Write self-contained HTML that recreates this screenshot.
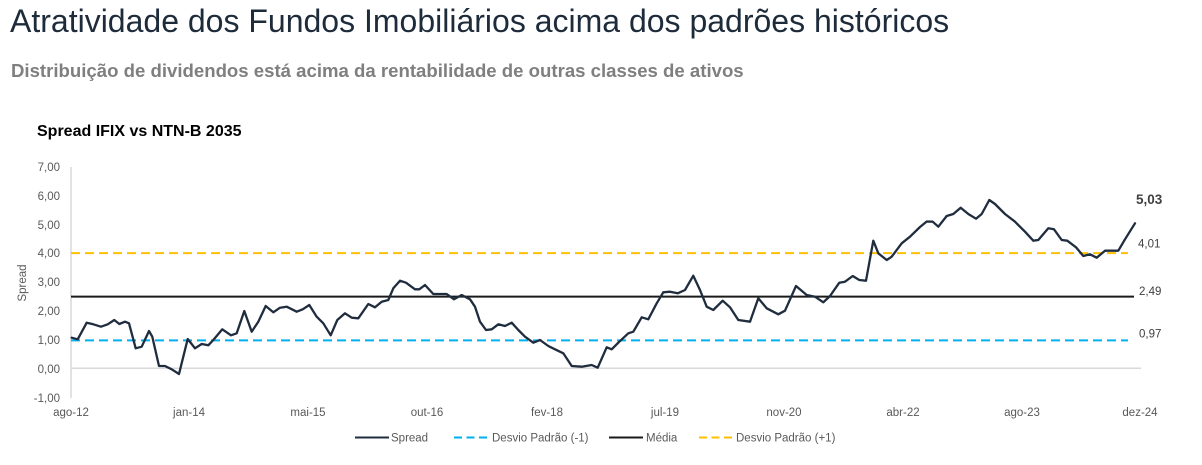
<!DOCTYPE html>
<html>
<head>
<meta charset="utf-8">
<style>
  html, body { margin: 0; padding: 0; background: #ffffff; }
  svg { display: block; }
  text { font-family: "Liberation Sans", Arial, sans-serif; }
</style>
</head>
<body>
<svg width="1202" height="465" viewBox="0 0 1202 465" xmlns="http://www.w3.org/2000/svg">
  <rect x="0" y="0" width="1202" height="465" fill="#ffffff"/>

  <!-- Titles -->
  <text x="10" y="32" font-size="32" fill="#1d2b3a">Atratividade dos Fundos Imobiliários acima dos padrões históricos</text>
  <text x="11" y="77" font-size="18.6" font-weight="bold" fill="#7f7f7f">Distribuição de dividendos está acima da rentabilidade de outras classes de ativos</text>
  <text x="37" y="136" font-size="16" font-weight="bold" fill="#000000">Spread IFIX vs NTN-B 2035</text>

  <!-- Y axis labels -->
  <g font-size="11.5" fill="#595959" text-anchor="end">
    <text x="60" y="171">7,00</text>
    <text x="60" y="200">6,00</text>
    <text x="60" y="229">5,00</text>
    <text x="60" y="257">4,00</text>
    <text x="60" y="286">3,00</text>
    <text x="60" y="315">2,00</text>
    <text x="60" y="344">1,00</text>
    <text x="60" y="373">0,00</text>
    <text x="60" y="402">-1,00</text>
  </g>
  <text x="0" y="0" font-size="11.5" fill="#595959" text-anchor="middle" transform="translate(26,283) rotate(-90)">Spread</text>

  <!-- X axis labels -->
  <g font-size="11.5" fill="#595959" text-anchor="middle">
    <text x="71" y="416">ago-12</text>
    <text x="189" y="416">jan-14</text>
    <text x="308" y="416">mai-15</text>
    <text x="427" y="416">out-16</text>
    <text x="547" y="416">fev-18</text>
    <text x="665" y="416">jul-19</text>
    <text x="784" y="416">nov-20</text>
    <text x="903" y="416">abr-22</text>
    <text x="1022" y="416">ago-23</text>
    <text x="1140" y="416">dez-24</text>
  </g>

  <!-- Axes -->
  <line x1="71" y1="167" x2="71" y2="398" stroke="#d9d9d9" stroke-width="1.5"/>
  <line x1="71" y1="368.3" x2="1141" y2="368.3" stroke="#d9d9d9" stroke-width="1.5"/>

  <!-- Reference lines -->
  <line x1="71" y1="253.1" x2="1128" y2="253.1" stroke="#ffc000" stroke-width="2" stroke-dasharray="9,5"/>
  <line x1="71" y1="340.4" x2="1128" y2="340.4" stroke="#00b0f0" stroke-width="2" stroke-dasharray="9,5"/>
  <line x1="71" y1="296.6" x2="1134" y2="296.6" stroke="#1a1a1a" stroke-width="2"/>

  <!-- Spread series -->
  <polyline fill="none" stroke="#1f2d3f" stroke-width="2.3" stroke-linejoin="round" stroke-linecap="round" points="
71.7,337.7 77.7,339.3 86.7,322.7 93.3,324.3 101,326.7 107.7,324.3 114.3,320 119.3,324 125,321.7 129,323.3
135.7,348.3 141.7,346.7 149,331 152.3,336.7 159,366 165,366 171.7,369.3 179,374 183.3,356.7 187.7,339
195,348.3 201.7,344 208.3,345.3 213.3,340 222.3,329.3 231,335.3 236.7,333.3 244.3,311 251.7,331.7 258.3,321.7
265.7,306 273.3,312.3 280,307.7 286.7,306.7 296.7,311.7 302.7,309.3 309.3,305 316.7,316.7 323.3,323.3 330.7,335.3
337.3,320 345,313.3 351.7,317.7 358.3,318.3 368.3,304 375,307.3 381.7,301.7 388.3,300 393.3,288.3 400,280.7
406,282.7 415,289.3 419.3,289.3 425,285 433.3,294 441.7,294 446.7,294 454,299.3 461.7,295 470,299.3
475,306.7 480,321.7 486,330 491.7,329.3 498.3,324.3 505,326 511.7,322.7 518.3,330 525,336.7 533.3,342.7
540,340 548.3,346 555,349.3 563.3,353.3 571.7,366 581.7,366.7 591.7,365 597.7,367.7 606.7,347.3 611.7,349.3
618.3,342.7 628.3,333.3 633.3,331.7 641.7,317.3 648.3,319.3 656.7,303.3 663.3,292.3 670,291.7 677.7,293.3 685,290
693.3,275.7 700,290 706.7,306.7 713.3,310 722.7,300.7 730,307.3 738.3,320 750,321.7 758.3,298.3 766.7,308.3
778.3,314.3 785,310.7 796,286 806.7,295 815,296.7 823.3,302.3 830,296 839.3,282.7 845,281.7 852.7,276
859.3,280 866,280.7 873.3,240.7 878.3,253.3 886.7,260 891.7,256.7 901.7,243.3 910,236.7 920,227 926.7,221.5
932.7,221.7 938.3,226.7 946.7,216 953.3,214 960.7,207.7 968.3,214 976,218.7 981.7,214 989.3,200 995,204
1005,214 1015,221.7 1025,231.7 1033.3,240.7 1038.3,240 1048.3,228.3 1054,229.3 1061.7,240 1067.3,240.7 1076,247.3
1083.3,256 1090,254.3 1096.7,257.7 1105,250.7 1118.3,250.7 1125,239.3 1135,223.3"/>

  <!-- Right-side value labels -->
  <text x="1136" y="204" font-size="13.5" font-weight="bold" fill="#404040">5,03</text>
  <g font-size="11.5" fill="#404040">
    <text x="1138" y="247.5">4,01</text>
    <text x="1139" y="295">2,49</text>
    <text x="1139" y="337.5">0,97</text>
  </g>

  <!-- Legend -->
  <line x1="355" y1="437.5" x2="389" y2="437.5" stroke="#1f2d3f" stroke-width="2"/>
  <line x1="454" y1="437.5" x2="487" y2="437.5" stroke="#00b0f0" stroke-width="2" stroke-dasharray="8,4.5"/>
  <line x1="609" y1="437.5" x2="643" y2="437.5" stroke="#1a1a1a" stroke-width="2"/>
  <line x1="699" y1="437.5" x2="733" y2="437.5" stroke="#ffc000" stroke-width="2" stroke-dasharray="8,4.5"/>
  <g font-size="11.5" fill="#595959">
    <text x="391" y="441.5">Spread</text>
    <text x="492" y="441.5">Desvio Padrão (-1)</text>
    <text x="646" y="441.5">Média</text>
    <text x="736" y="441.5">Desvio Padrão (+1)</text>
  </g>
</svg>
</body>
</html>
